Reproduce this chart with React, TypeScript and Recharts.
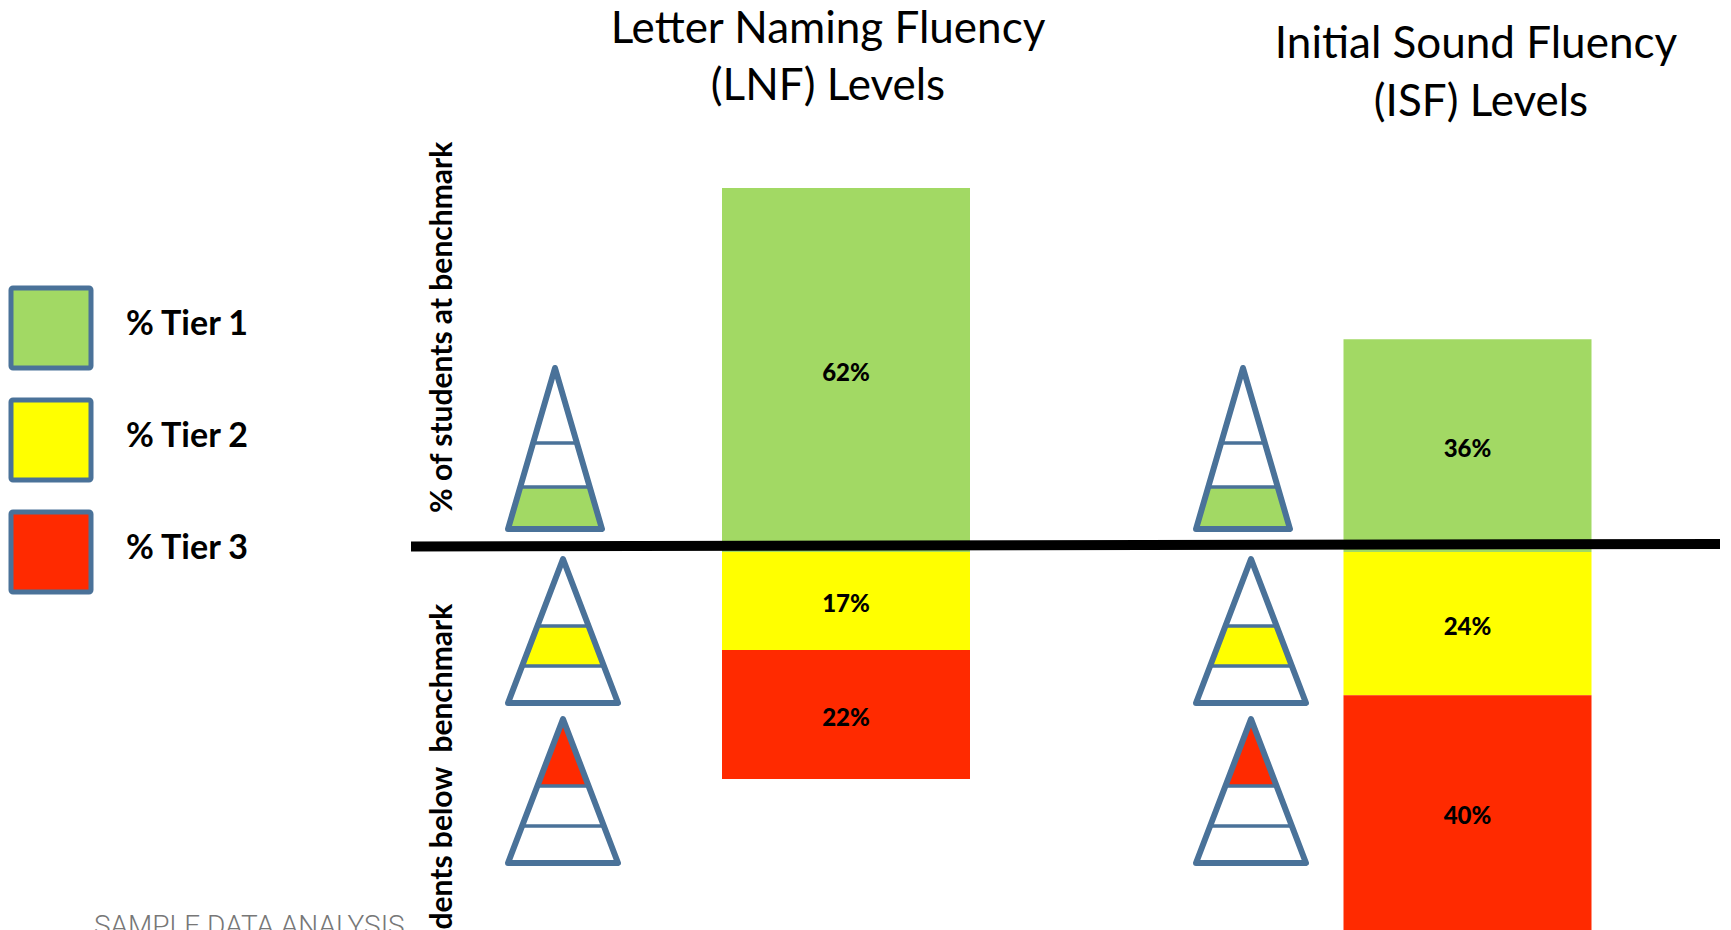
import { BarChart, Bar, XAxis, YAxis, LabelList } from "recharts";

const categories = ["LNF", "ISF"];
const tier1 = [62, 36.2];
const tier2 = [-16.7, -24.4];
const tier3 = [-22, -40];
const legendLabels = ["% Tier 1", "% Tier 2", "% Tier 3"];
const colors = ["#A2D964", "#FFFF00", "#FF2A00"];

const rows = categories.map((name, i) => ({
  name,
  tier1: tier1[i],
  tier2: tier2[i],
  tier3: tier3[i],
}));

const BLUE = "#4A7299";
const FONT = "Lato, sans-serif";

const formatPct = (v: any) => `${Math.round(Math.abs(v))}%`;

// small tier pyramids next to the bars, band 0 = top
function Pyramid({ cx, top, base, half, y1, y2, band, fill }: any) {
  const at = (y: number) => (half * (y - top)) / (base - top);
  const edges = [top, y1, y2, base];
  const a = edges[band];
  const b = edges[band + 1];
  const points = `${cx - at(a)},${a} ${cx + at(a)},${a} ${cx + at(b)},${b} ${cx - at(b)},${b}`;
  return (
    <g stroke={BLUE} fill="none" strokeLinejoin="round">
      <polygon points={points} fill={fill} stroke="none" />
      <line x1={cx - at(y1)} x2={cx + at(y1)} y1={y1} y2={y1} strokeWidth={3.5} />
      <line x1={cx - at(y2)} x2={cx + at(y2)} y1={y2} y2={y2} strokeWidth={3.5} />
      <polygon points={`${cx},${top} ${cx + half},${base} ${cx - half},${base}`} strokeWidth={6} />
    </g>
  );
}

export default function App() {
  return (
    <div style={{ position: "absolute", left: 0, top: 0, width: 1731, height: 930, overflow: "hidden", background: "#fff" }}>
      <BarChart
        width={1778}
        height={930}
        data={rows}
        stackOffset="sign"
        margin={{ top: 0, right: 0, bottom: 0, left: 535 }}
      >
        <XAxis dataKey="name" hide />
        <YAxis hide domain={[-64.4, 94]} allowDataOverflow />
        <Bar dataKey="tier1" stackId="a" fill={colors[0]} barSize={248} isAnimationActive={false}>
          <LabelList dataKey="tier1" position="center" formatter={formatPct} fill="#000" fontSize={24} fontWeight={900} fontFamily={FONT} dy={3} />
        </Bar>
        <Bar dataKey="tier2" stackId="a" fill={colors[1]} barSize={248} isAnimationActive={false}>
          <LabelList dataKey="tier2" position="center" formatter={formatPct} fill="#000" fontSize={24} fontWeight={900} fontFamily={FONT} dy={3} />
        </Bar>
        <Bar dataKey="tier3" stackId="a" fill={colors[2]} barSize={248} isAnimationActive={false}>
          <LabelList dataKey="tier3" position="center" formatter={formatPct} fill="#000" fontSize={24} fontWeight={900} fontFamily={FONT} dy={3} />
        </Bar>
      </BarChart>

      <svg width={1731} height={930} style={{ position: "absolute", left: 0, top: 0 }} fontFamily={FONT}>
        <g fontSize={44} textAnchor="middle" fill="#000">
          <text x={828} y={43}>Letter Naming Fluency</text>
          <text x={828} y={100}>(LNF) Levels</text>
          <text x={1476} y={58}>Initial Sound Fluency</text>
          <text x={1481} y={116}>(ISF) Levels</text>
        </g>

        {legendLabels.map((label, i) => (
          <g key={label}>
            <rect x={11} y={288 + i * 112} width={80} height={80} rx={2} fill={colors[i]} stroke={BLUE} strokeWidth={5} />
            <text x={126} y={335 + i * 112} fontSize={34} fontWeight={700} fill="#000">{label}</text>
          </g>
        ))}

        <text transform="translate(452,513) rotate(-90)" fontSize={30} fontWeight={700} fill="#000">% of students at benchmark</text>
        <text transform="translate(452,1037) rotate(-90)" fontSize={30} fontWeight={700} fill="#000" xmlSpace="preserve">% of students below  benchmark</text>
        <text x={94} y={935} fontSize={28} fontWeight={300} fontFamily="Roboto, sans-serif" fill="#777">SAMPLE DATA ANALYSIS</text>

        <Pyramid cx={555} top={368} base={529} half={47} y1={443} y2={487} band={2} fill={colors[0]} />
        <Pyramid cx={563} top={559} base={703} half={55} y1={626} y2={666} band={1} fill={colors[1]} />
        <Pyramid cx={563} top={719} base={863} half={55} y1={786} y2={826} band={0} fill={colors[2]} />
        <Pyramid cx={1243} top={368} base={529} half={47} y1={443} y2={487} band={2} fill={colors[0]} />
        <Pyramid cx={1251} top={559} base={703} half={55} y1={626} y2={666} band={1} fill={colors[1]} />
        <Pyramid cx={1251} top={719} base={863} half={55} y1={786} y2={826} band={0} fill={colors[2]} />

        <line x1={411} y1={546.5} x2={1720} y2={544} stroke="#000" strokeWidth={10} />
      </svg>
    </div>
  );
}
